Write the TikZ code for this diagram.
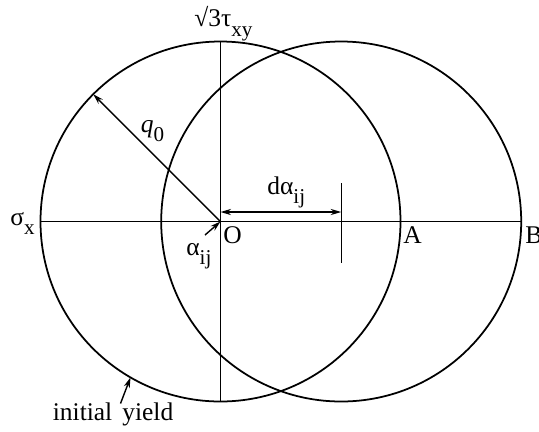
\documentclass[tikz,border=0pt]{standalone}
\usepackage{fontspec}
\setmainfont{Liberation Serif}
\usetikzlibrary{positioning}
\usetikzlibrary{shapes,arrows.meta}
\newcommand{\lo}[1]{\raisebox{-5.5pt}{\fontsize{12}{14}\selectfont #1}}

\begin{document}
\begin{tikzpicture}[
  every node/.style={font=\fontsize{14.5}{17}\selectfont},
  yieldc/.style={draw, circle, line width=1pt, minimum size=7.2cm, inner sep=0pt, outer sep=0pt},
  lbl/.style={anchor=base west, inner sep=0pt},
  >={Stealth[length=6pt,width=3.5pt]}
]
\useasboundingbox (-4.41,-4.19) rectangle (6.37,4.43);

\coordinate (O) at (0,0);
\node[yieldc] (init) at (O) {};
\node[yieldc] (load) at (2.414,0) {};

% axes
\draw[thick] (init.west) -- (load.east);
\draw[thick] (init.north) -- (init.south);

% centre of the shifted surface
\coordinate (ctop) at (2.414,0.77);
\coordinate (cbot) at (2.414,-0.82);
\draw[thick] (ctop) -- (cbot);

\coordinate (d0) at (0,0.19);
\coordinate (d1) at (2.414,0.19);
\draw[<->, thick] (d0) -- (d1);

\draw[->, thick] (O) -- (init.135);

\coordinate (atail) at (-0.31,-0.27);
\draw[->, thick] (atail) -- (O);

% labels
\node[lbl] (tau) at (-0.53,3.90) {√3τ\lo{xy}};
\node[lbl] (sig) at (-4.21,-0.07) {σ\lo{x}};
\node[lbl] (q) at (-1.60,1.79) {\textit{q}\lo{0}};
\node[lbl] (da) at (0.93,0.55) {dα\lo{ij}};
\node[lbl] (alpha) at (-0.69,-0.67) {α\lo{ij}};
\node[lbl] (o) at (0.05,-0.43) {O};
\node[lbl] (a) at (3.65,-0.43) {A};
\node[lbl] (b) at (6.09,-0.43) {B};
\node[lbl] (iy) at (-3.36,-3.97) {initial\hspace{0.2cm}yield};

\coordinate (iytail) at (-2.0,-3.64);
\draw[->, thick] (iytail) -- (init.240);
\end{tikzpicture}
\end{document}
